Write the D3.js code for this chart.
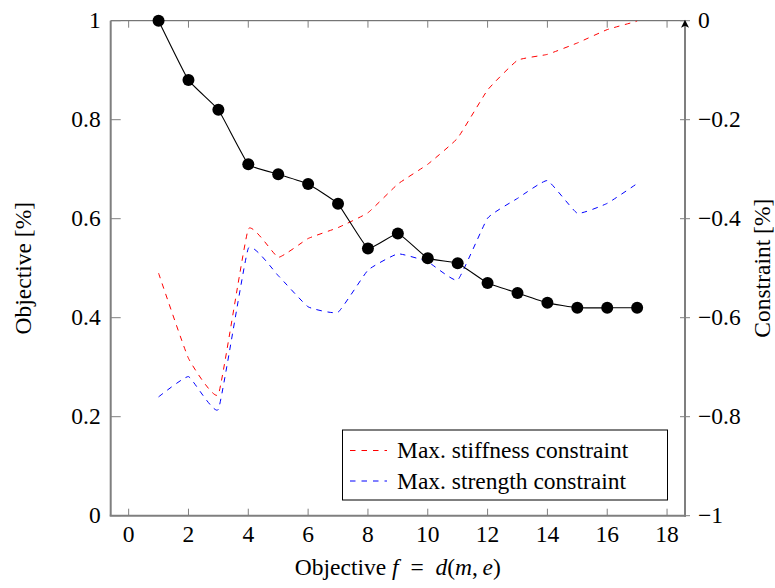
<!DOCTYPE html>
<html>
<head>
<meta charset="utf-8">
<script src="https://cdn.jsdelivr.net/npm/d3@7"></script>
<style>
  body { margin: 0; background: #fff; }
  svg text { font-family: "Liberation Serif", "DejaVu Serif", serif; fill: #000; }
</style>
</head>
<body>
<div id="chart"></div>
<script>
// values
var xs = [1, 2, 3, 4, 5, 6, 7, 8, 9, 10, 11, 12, 13, 14, 15, 16, 17];
var objective = [1.0, 0.88, 0.82, 0.71, 0.69, 0.67, 0.63, 0.54, 0.57, 0.52, 0.51, 0.47, 0.45, 0.43, 0.42, 0.42, 0.42];
var stiffness = [-0.51, -0.682, -0.755, -0.421, -0.478, -0.44, -0.418, -0.388, -0.33, -0.29, -0.237, -0.14, -0.08, -0.068, -0.045, -0.018, -0.001];
var strength = [-0.76, -0.719, -0.785, -0.46, -0.515, -0.578, -0.589, -0.504, -0.471, -0.487, -0.524, -0.399, -0.359, -0.323, -0.389, -0.369, -0.329];
var xTicks = [0, 2, 4, 6, 8, 10, 12, 14, 16, 18];
var yLeftTicks = [0, 0.2, 0.4, 0.6, 0.8, 1];
var yRightTicks = [-1, -0.8, -0.6, -0.4, -0.2, 0];
var legendNames = ['Max. stiffness constraint', 'Max. strength constraint'];
var legendColors = ['#ff0000', '#0000ff'];

var W = 775, H = 588;
var m = { left: 110.7, right: 775 - 685, top: 20.7, bottom: 588 - 515.7 };
var iw = W - m.left - m.right, ih = H - m.top - m.bottom;

var svg = d3.select('#chart').append('svg')
  .attr('width', W)
  .attr('height', H);
var g = svg.append('g').attr('transform', 'translate(' + m.left + ',' + m.top + ')');

var x = d3.scaleLinear().domain([-0.6, 18.6]).range([0, iw]);
var yL = d3.scaleLinear().domain([0, 1]).range([ih, 0]);
var yR = d3.scaleLinear().domain([-1, 0]).range([ih, 0]);

var axisGrey = '#7f7f7f';
var fs = 23.5;

// top frame line
g.append('line').attr('x1', 0).attr('x2', iw).attr('y1', 0).attr('y2', 0)
  .attr('stroke', '#555').attr('stroke-width', 1);

// ticks, bottom (inward) and top (inward)
xTicks.forEach(function(t){
  g.append('line').attr('x1', x(t)).attr('x2', x(t)).attr('y1', ih).attr('y2', ih - 7)
    .attr('stroke', axisGrey).attr('stroke-width', 1);
  g.append('line').attr('x1', x(t)).attr('x2', x(t)).attr('y1', 0).attr('y2', 7)
    .attr('stroke', axisGrey).attr('stroke-width', 1);
  g.append('text').attr('x', x(t)).attr('y', ih + 26.5)
    .attr('text-anchor', 'middle').attr('font-size', fs).text(t);
});

// left ticks
yLeftTicks.forEach(function(t){
  g.append('line').attr('x1', 0).attr('x2', 10).attr('y1', yL(t)).attr('y2', yL(t))
    .attr('stroke', axisGrey).attr('stroke-width', 1);
  g.append('text').attr('x', -10).attr('y', yL(t)).attr('dy', '0.33em')
    .attr('text-anchor', 'end').attr('font-size', fs).text(t);
});

// right ticks
yRightTicks.forEach(function(t){
  g.append('line').attr('x1', iw - 5).attr('x2', iw + 5).attr('y1', yR(t)).attr('y2', yR(t))
    .attr('stroke', axisGrey).attr('stroke-width', 1);
  g.append('text').attr('x', iw + 13).attr('y', yR(t)).attr('dy', '0.33em')
    .attr('text-anchor', 'start').attr('font-size', fs)
    .text(t === 0 ? '0' : '\u2212' + Math.abs(t));
});

// axis lines
g.append('line').attr('x1', 0).attr('x2', 0).attr('y1', 0).attr('y2', ih)
  .attr('stroke', axisGrey).attr('stroke-width', 2);
g.append('line').attr('x1', -1).attr('x2', iw + 1).attr('y1', ih).attr('y2', ih)
  .attr('stroke', axisGrey).attr('stroke-width', 2);
g.append('line').attr('x1', iw).attr('x2', iw).attr('y1', ih + 1).attr('y2', 2)
  .attr('stroke', axisGrey).attr('stroke-width', 2);
// arrow head on right axis
g.append('path')
  .attr('d', 'M' + (iw - 4) + ',7 L' + iw + ',-1 L' + (iw + 4) + ',7 L' + iw + ',5 Z')
  .attr('fill', '#000');

// constraint lines (right axis)
var lineR = d3.line()
  .x(function(d, i){ return x(xs[i]); })
  .y(function(d){ return yR(d); })
  .curve(d3.curveCardinal.tension(0.65));

g.append('path').datum(stiffness)
  .attr('d', lineR).attr('fill', 'none')
  .attr('stroke', legendColors[0]).attr('stroke-width', 1)
  .attr('stroke-dasharray', '5.5,5.5');
g.append('path').datum(strength)
  .attr('d', lineR).attr('fill', 'none')
  .attr('stroke', legendColors[1]).attr('stroke-width', 1)
  .attr('stroke-dasharray', '5.5,5.5');

// objective line + markers (left axis)
var lineL = d3.line()
  .x(function(d, i){ return x(xs[i]); })
  .y(function(d){ return yL(d); })
  .curve(d3.curveCardinal.tension(0.65));

g.append('path').datum(objective)
  .attr('d', lineL).attr('fill', 'none')
  .attr('stroke', '#000').attr('stroke-width', 1.1);
g.selectAll('.pt').data(objective).enter().append('circle')
  .attr('class', 'pt')
  .attr('cx', function(d, i){ return x(xs[i]); })
  .attr('cy', function(d){ return yL(d); })
  .attr('r', 6)
  .attr('fill', '#000');

// legend
var lg = svg.append('g');
lg.append('rect').attr('x', 342.5).attr('y', 430).attr('width', 325).attr('height', 70)
  .attr('fill', '#fff').attr('stroke', '#000').attr('stroke-width', 1);
legendNames.forEach(function(name, i){
  var ly = 450.5 + i * 30.5;
  lg.append('line').attr('x1', 350).attr('x2', 387).attr('y1', ly).attr('y2', ly)
    .attr('stroke', legendColors[i]).attr('stroke-width', 1)
    .attr('stroke-dasharray', '5.5,6');
  lg.append('text').attr('x', 397).attr('y', ly).attr('dy', '0.33em')
    .attr('font-size', fs).text(name);
});

// axis titles
svg.append('text').attr('x', m.left + x(9)).attr('y', 575)
  .attr('text-anchor', 'middle').attr('font-size', fs)
  .html('Objective <tspan font-style="italic">f</tspan>\u2002=\u2002<tspan font-style="italic">d</tspan>(<tspan font-style="italic">m</tspan>,\u2009<tspan font-style="italic">e</tspan>)');
svg.append('text')
  .attr('transform', 'translate(31,' + (m.top + ih / 2) + ') rotate(-90)')
  .attr('text-anchor', 'middle').attr('font-size', fs).text('Objective [%]');
svg.append('text')
  .attr('transform', 'translate(770,' + (m.top + ih / 2) + ') rotate(-90)')
  .attr('text-anchor', 'middle').attr('font-size', fs).text('Constraint [%]');
</script>
</body>
</html>
